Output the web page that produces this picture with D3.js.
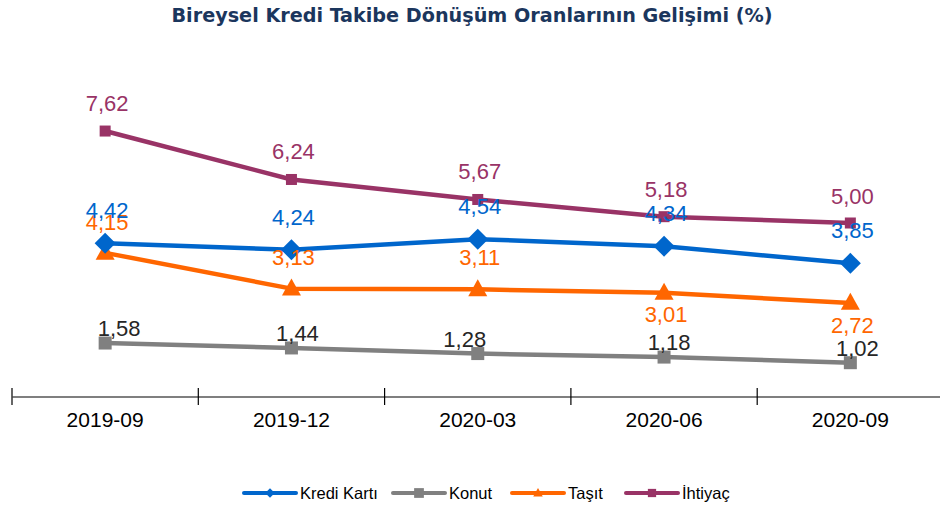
<!DOCTYPE html>
<html><head><meta charset="utf-8">
<script src="https://cdn.jsdelivr.net/npm/d3@7"></script>
<style>
html,body{margin:0;padding:0;background:#fff;}
svg{display:block;}
</style></head>
<body>
<svg id="chart" width="940" height="511"></svg>
<script>
const categories = ["2019-09","2019-12","2020-03","2020-06","2020-09"];
const krediKarti = [4.42,4.24,4.54,4.34,3.85];
const konut = [1.58,1.44,1.28,1.18,1.02];
const tasit = [4.15,3.13,3.11,3.01,2.72];
const ihtiyac = [7.62,6.24,5.67,5.18,5.00];
const seriesNames = ["Kredi Kartı","Konut","Taşıt","İhtiyaç"];
const title = "Bireysel Kredi Takibe Dönüşüm Oranlarının Gelişimi (%)";

const series = [
  {name: seriesNames[0], values: krediKarti, color:"#0066CC", labelColor:"#0066CC", marker:"diamond", labelPos:[-33,-33,-33,-33,-33]},
  {name: seriesNames[1], values: konut, color:"#808080", labelColor:"#262626", marker:"square", labelPos:[-15,-15,-15,-15,-15], labelDx:[14,6,-13,5,7]},
  {name: seriesNames[2], values: tasit, color:"#FF6600", labelColor:"#FF6600", marker:"triangle", labelPos:[-31,-32,-32,21,22]},
  {name: seriesNames[3], values: ihtiyac, color:"#993366", labelColor:"#993366", marker:"smallsquare", labelPos:[-28,-28,-28,-28,-27]}
];

const svg = d3.select("#chart");
const x = d3.scaleBand().domain(categories).range([12, 943.5]);
const y = d3.scaleLinear().domain([0,10]).range([398.5, 47.5]);
const cx = c => x(c) + x.bandwidth()/2;

svg.append("text").attr("x", 472).attr("y", 22).attr("text-anchor","middle")
  .attr("font-family","'DejaVu Sans Condensed', 'Liberation Sans', Arial, sans-serif").attr("font-weight","bold")
  .attr("font-size", 20).attr("fill","#1B365D")
  .attr("textLength", 601).attr("lengthAdjust","spacingAndGlyphs").text(title);

// axis
const axis = d3.axisBottom(x).tickSize(0).tickFormat(d=>d);
const ag = svg.append("g").attr("transform","translate(0,396.5)").call(axis);
ag.select(".domain").attr("stroke","#000").attr("stroke-width",1.2);
ag.selectAll(".tick text").attr("font-family","'Liberation Sans Narrow', 'Liberation Sans', Arial, sans-serif")
  .attr("font-size",21).attr("fill","#000").attr("dy",0).attr("y",30.5);
const bounds = categories.map(c=>x(c)).concat([x(categories[categories.length-1])+x.bandwidth()]);
svg.append("g").selectAll("line").data(bounds).join("line")
  .attr("x1",d=>d).attr("x2",d=>d).attr("y1",388).attr("y2",405)
  .attr("stroke","#000").attr("stroke-width",1.2);

function drawMarker(g, type, color, px, py, scale) {
  scale = scale || 1;
  if (type==="diamond") {
    const r = 10.5*scale;
    g.append("path").attr("d",`M${px},${py-r}L${px+r},${py}L${px},${py+r}L${px-r},${py}Z`).attr("fill",color);
  } else if (type==="square") {
    const s = 13*scale;
    g.append("rect").attr("x",px-s/2).attr("y",py-s/2).attr("width",s).attr("height",s).attr("fill",color);
  } else if (type==="smallsquare") {
    const s = 11*scale;
    g.append("rect").attr("x",px-s/2).attr("y",py-s/2).attr("width",s).attr("height",s).attr("fill",color);
  } else if (type==="triangle") {
    const w = 19*scale, h = 17*scale;
    g.append("path").attr("d",`M${px},${py-h*0.6}L${px+w/2},${py+h*0.4}L${px-w/2},${py+h*0.4}Z`).attr("fill",color);
  }
}

const line = d3.line().x((d,i)=>cx(categories[i])).y(d=>y(d));
const order = [1,2,0,3];
order.forEach(si=>{
  const s = series[si];
  const g = svg.append("g");
  g.append("path").datum(s.values).attr("d",line).attr("fill","none")
    .attr("stroke",s.color).attr("stroke-width",4.5).attr("stroke-linejoin","round");
  s.values.forEach((v,i)=>drawMarker(g, s.marker, s.color, cx(categories[i]), y(v)));
});
order.forEach(si=>{
  const s = series[si];
  svg.append("g").selectAll("text").data(s.values).join("text")
    .attr("x",(d,i)=>cx(categories[i]) + (s.labelDx ? s.labelDx[i] : 2))
    .attr("y",(d,i)=>y(d)+s.labelPos[i]+8)
    .attr("text-anchor","middle")
    .attr("font-family","'Liberation Sans', Arial, sans-serif")
    .attr("font-size",22).attr("fill",s.labelColor)
    .text(d=>d3.format(".2f")(d).replace(".",","));
});

// legend
const legendX = [244, 393, 512, 626];
const lg = svg.append("g");
series.forEach((s,i)=>{
  const lx = legendX[i], ly = 493;
  lg.append("line").attr("x1",lx).attr("x2",lx+52).attr("y1",ly).attr("y2",ly)
    .attr("stroke",s.color).attr("stroke-width",4).attr("stroke-linecap","round");
  drawMarker(lg, s.marker, s.color, lx+26, ly, s.marker==="diamond"?0.45:(s.marker==="triangle"?0.5:0.75));
  lg.append("text").attr("x",lx+56).attr("y",ly+6)
    .attr("font-family","'Liberation Sans Narrow', 'Liberation Sans', Arial, sans-serif")
    .attr("font-size",16.5).attr("fill","#000").text(s.name);
});
</script>
</body></html>
